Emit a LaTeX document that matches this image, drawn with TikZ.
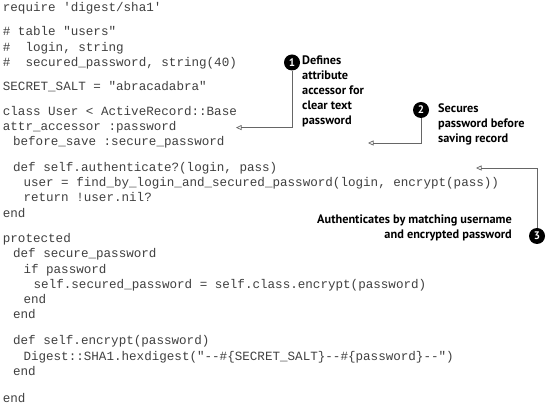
\documentclass[tikz,border=0pt]{standalone}
\usepackage{fontspec}
\setmonofont{Liberation Mono}
\newfontfamily\calloutfont{PT Sans}
\usetikzlibrary{arrows.meta}
\tikzset{
  codeline/.style={anchor=base west, inner sep=0pt, text=black!75, font=\ttfamily\fontsize{12.58}{14}\selectfont},
  callnum/.style={circle, fill=black, text=white, inner sep=0pt, minimum size=16pt, font=\calloutfont\bfseries\fontsize{11}{11}\selectfont},
  calltext/.style={inner sep=0pt, font=\calloutfont\bfseries\fontsize{12.3}{14.8}\selectfont},
  callline/.style={draw=black!60, line width=0.7pt, -{Triangle[open, length=5.5pt, width=5pt]}},
}
\begin{document}
\begin{tikzpicture}[x=1pt, y=-1pt]
\path[fill=white, use as bounding box] (0,0) rectangle (546,411);
% code
\node[codeline] (l1)  at (2.7, 11.3)  {require 'digest/sha1'};
\node[codeline] (l2)  at (2.7, 35.8)  {\# table "users"};
\node[codeline] (l3)  at (2.7, 51.1)  {\#\ \ login, string};
\node[codeline] (l4)  at (2.7, 66.4)  {\#\ \ secured\_password, string(40)};
\node[codeline] (l5)  at (2.7, 90.9)  {SECRET\_SALT = "abracadabra"};
\node[codeline] (l6)  at (2.7, 115.4) {class User < ActiveRecord::Base};
\node[codeline] (l7)  at (2.7, 130.7) {attr\_accessor :password};
\node[codeline] (l8)  at (12.9, 146.0) {before\_save :secure\_password};
\node[codeline] (l9)  at (12.9, 171.3) {def self.authenticate?(login, pass)};
\node[codeline] (l10) at (23.3, 186.6) {user = find\_by\_login\_and\_secured\_password(login, encrypt(pass))};
\node[codeline] (l11) at (23.3, 201.9) {return !user.nil?};
\node[codeline] (l12) at (2.7, 217.2) {end};
\node[codeline] (l13) at (2.7, 242.5) {protected};
\node[codeline] (l14) at (12.9, 257.8) {def secure\_password};
\node[codeline] (l15) at (23.3, 273.1) {if password};
\node[codeline] (l16) at (33.5, 288.4) {self.secured\_password = self.class.encrypt(password)};
\node[codeline] (l17) at (23.3, 303.7) {end};
\node[codeline] (l18) at (12.9, 319.0) {end};
\node[codeline] (l19) at (12.9, 344.9) {def self.encrypt(password)};
\node[codeline] (l20) at (23.3, 360.2) {Digest::SHA1.hexdigest("--\#\{SECRET\_SALT\}--\#\{password\}--")};
\node[codeline] (l21) at (12.9, 375.5) {end};
\node[codeline] (l22) at (2.7, 402.1) {end};
% callout 1
\node[callnum] (c1) at (292, 62.5) {1};
\node[calltext, anchor=north west, align=left] (t1) at (302, 56) {Defines\\attribute\\accessor for\\clear text\\password};
\coordinate (a1) at (236, 127.6);
\draw[callline] (c1) -- (c1 |- a1) -- (a1);
% callout 2
\node[callnum] (c2) at (421, 110) {2};
\node[calltext, anchor=north west, align=left] (t2) at (438, 104) {Secures\\password before\\saving record};
\coordinate (a2) at (368, 143);
\draw[callline] (c2) -- (c2 |- a2) -- (a2);
% callout 3
\node[callnum] (c3) at (537, 236) {3};
\node[calltext, anchor=north east, align=right] (t3) at (512, 214.5) {Authenticates by matching username\\and encrypted password};
\coordinate (a3) at (476, 168);
\draw[callline] (c3) -- (c3 |- a3) -- (a3);
\end{tikzpicture}
\end{document}
